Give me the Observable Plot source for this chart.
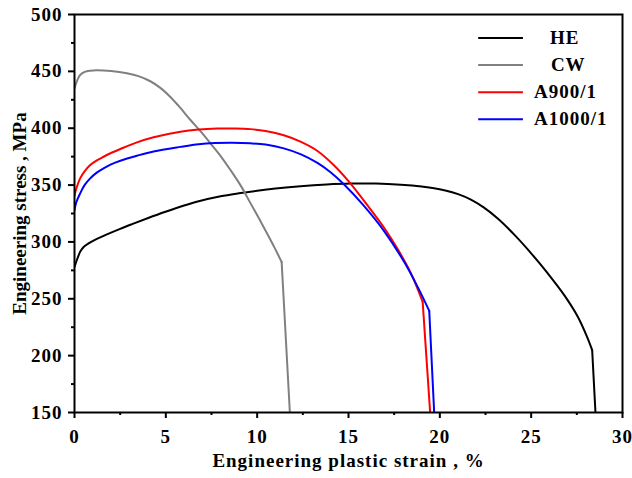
<!DOCTYPE html>
<html><head><meta charset="utf-8">
<script src="https://cdn.jsdelivr.net/npm/d3@7"></script>
<script src="https://cdn.jsdelivr.net/npm/@observablehq/plot@0.6"></script>
<style>
body{margin:0;background:#fff;}
#chart svg text{letter-spacing:1px;}
</style></head><body><div id="chart"></div>
<script>
// ---- data ----
const seriesNames = ["HE", "CW", "A900/1", "A1000/1"];
const seriesColors = ["#000000", "#808080", "#ff0000", "#0000ff"];

const heStrain = [0, 0.15, 0.31, 0.5, 0.77, 1.2, 1.68, 2.5, 3.15, 4, 4.98, 6, 6.8, 8, 9, 10, 11, 12.38, 13.8, 15.12, 16.5, 17.87, 19, 19.6, 20.3, 21.0, 21.7, 22.4, 23.17, 24.1, 25, 25.9, 26.82, 27.56, 28.1, 28.34, 28.52];
const heStress = [278, 285, 291.3, 295.5, 298.7, 302.5, 306, 311.5, 315.6, 320.8, 326.5, 332, 335.8, 340.2, 342.8, 345, 346.9, 349, 350.5, 351.3, 351.3, 350.3, 348.8, 347.5, 345.3, 342, 337.2, 330.4, 320.6, 306, 290, 272.5, 253, 234, 215, 204.8, 150];

const cwStrain = [0, 0.15, 0.31, 0.59, 0.86, 1.2, 2, 2.87, 3.5, 4.15, 4.7, 5.25, 5.7, 6.35, 7.0, 7.44, 8.0, 8.54, 9.1, 9.64, 10.08, 10.55, 10.95, 11.34, 11.79];
const cwStress = [435, 442, 446.8, 449.7, 450.6, 451, 450.3, 448.3, 445.8, 441.3, 435.5, 427.5, 419.6, 407.2, 395.5, 386.7, 375.5, 363.2, 349.5, 333.9, 321.2, 307.2, 295, 282.3, 150];

const a900Strain = [0, 0.1, 0.31, 0.55, 0.86, 1.2, 1.59, 2.0, 2.51, 3.42, 4.33, 5.8, 6.8, 7.8, 8.8, 9.64, 10.46, 11.46, 12.4, 13.3, 14.2, 15.0, 16.0, 16.95, 17.7, 18.4, 19.06, 19.47];
const a900Stress = [340.5, 347, 355.9, 362, 367.6, 371.5, 374.9, 378.2, 381.7, 387.5, 392, 396.9, 398.8, 399.7, 399.8, 399.2, 397.5, 393.8, 388, 380, 367.5, 353.5, 333, 312.5, 293.5, 273, 247.3, 150];

const a1000Strain = [0, 0.1, 0.31, 0.55, 0.86, 1.2, 1.59, 2.0, 2.51, 3.42, 4.33, 5.8, 6.8, 7.7, 8.63, 9.64, 10.46, 11.46, 12.4, 13.3, 14.0, 14.76, 15.8, 16.95, 18.1, 18.8, 19.42, 19.69];
const a1000Stress = [328, 335, 342.7, 350, 355.9, 360.7, 364.7, 368.2, 371.4, 375.8, 379.6, 383.6, 385.9, 386.9, 387.2, 386.7, 385.6, 382.3, 377, 369.5, 361.5, 350.5, 332.5, 309.5, 281, 260, 239.4, 150];

const xTicks = [0, 5, 10, 15, 20, 25, 30];
const xMinorTicks = [2.5, 7.5, 12.5, 17.5, 22.5, 27.5];
const yTicks = [150, 200, 250, 300, 350, 400, 450, 500];
const yMinorTicks = [175, 225, 275, 325, 375, 425, 475];
const xTitle = "Engineering plastic strain , %";
const yTitle = "Engineering stress , MPa";

// ---- build table: smooth part up to the fracture kink, straight final drop ----
const strainArrays = [heStrain, cwStrain, a900Strain, a1000Strain];
const stressArrays = [heStress, cwStress, a900Stress, a1000Stress];
const smoothRows = [];
const dropRows = [];
seriesNames.forEach((name, k) => {
  const xs = strainArrays[k], ys = stressArrays[k], n = xs.length;
  xs.forEach((x, i) => {
    const r = {series: name, strain: x, stress: ys[i]};
    if (i <= n - 2) smoothRows.push(r);
    if (i >= n - 2) dropRows.push(r);
  });
});

// legend layout (data units of the chart's scales)
const legendLayout = {x1: 22.1, x2: 24.55, yTop: 479.3, yStep: 23.8, textX: [26.03, 26.08, 25.16, 25.16]};
const legendRows = seriesNames.map((name, i) => ({
  series: name,
  y: legendLayout.yTop - i * legendLayout.yStep,
  tx: legendLayout.textX[i]
}));

const font = "'Liberation Serif', 'Times New Roman', serif";

const chart = Plot.plot({
  width: 632,
  height: 478,
  marginLeft: 74,
  marginRight: 10,
  marginTop: 14,
  marginBottom: 66,
  style: {fontFamily: font, fontWeight: "bold", fontSize: "19px", background: "#fff", color: "#000"},
  x: {domain: [0, 30]},
  y: {domain: [150, 500]},
  color: {domain: seriesNames, range: seriesColors},
  marks: [
    Plot.line(smoothRows, {x: "strain", y: "stress", z: "series", stroke: "series", strokeWidth: 2, curve: "catmull-rom", clip: true}),
    Plot.line(dropRows, {x: "strain", y: "stress", z: "series", stroke: "series", strokeWidth: 2, curve: "linear", clip: true}),
    Plot.frame({stroke: "#000", strokeWidth: 2}),
    Plot.axisX({ticks: xTicks, tickSize: 6, tickPadding: 11, strokeWidth: 2, label: null, fontSize: 19, fontWeight: "bold"}),
    Plot.axisX({ticks: xMinorTicks, tickSize: 3, strokeWidth: 2, text: null, label: null}),
    Plot.axisY({ticks: yTicks, tickSize: 6, tickPadding: 6, strokeWidth: 2, label: null, fontSize: 19, fontWeight: "bold"}),
    Plot.axisY({ticks: yMinorTicks, tickSize: 3, strokeWidth: 2, text: null, label: null}),
    Plot.text([xTitle], {text: d => d, frameAnchor: "bottom", lineAnchor: "bottom", dy: 54, fontSize: 19, fontWeight: "bold"}),
    Plot.text([yTitle], {text: d => d, frameAnchor: "left", rotate: -90, textAnchor: "middle", lineAnchor: "bottom", dx: -49, fontSize: 19, fontWeight: "bold"}),
    Plot.link(legendRows, {x1: () => legendLayout.x1, x2: () => legendLayout.x2, y1: "y", y2: "y", stroke: "series", strokeWidth: 2}),
    Plot.text(legendRows, {x: "tx", y: "y", text: "series", textAnchor: "start", fontSize: 19, fontWeight: "bold", fill: "#000"})
  ]
});
document.getElementById("chart").appendChild(chart);
d3.select(chart).selectAll("text").filter(function(){ return this.textContent === yTitle; }).style("letter-spacing", "0px");
</script>
</body></html>
